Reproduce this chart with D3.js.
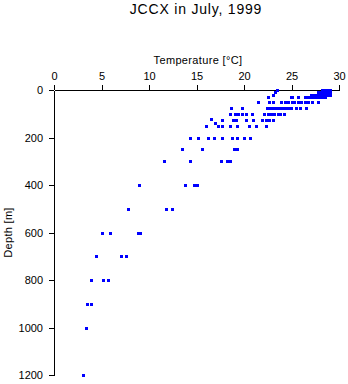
<!DOCTYPE html>
<html>
<head>
<meta charset="utf-8">
<script src="https://cdn.jsdelivr.net/npm/d3@7"></script>
<style>
  html, body { margin: 0; padding: 0; background: #fff; }
  svg { display: block; }
  text { font-family: "Liberation Sans", Arial, Helvetica, sans-serif; fill: #000; }
</style>
</head>
<body>
<svg id="chart" width="348" height="384"></svg>
<script>
// ---- data ----
const title = "JCCX in July, 1999";
const xLabel = "Temperature [°C]";
const yLabel = "Depth [m]";
const tempTicks = [0, 5, 10, 15, 20, 25, 30];
const depthTicks = [0, 200, 400, 600, 800, 1000, 1200];

const depthLevels = [0, 10, 20, 30, 50, 75, 100, 120, 125, 140, 150, 200, 250, 300, 400, 500, 600, 700, 800, 900, 1000, 1200];
const tempsByDepth = [
  [23.5, 28.2, 28.5, 28.8, 29.1],                                   // 0
  [23.3, 27.8, 28.1, 28.4, 28.7, 29.0],                             // 10
  [23.1, 27.1, 27.4, 27.7, 28.0, 28.3, 28.6, 28.9, 29.1],           // 20
  [22.5, 24.9, 25.1, 25.7, 26.4, 26.7, 27.0, 27.3, 27.6, 27.9, 28.2, 28.5], // 30
  [21.5, 22.6, 23.0, 23.9, 24.3, 24.6, 25.0, 25.3, 25.7, 26.0, 26.4, 26.7, 27.2, 27.8], // 50
  [18.6, 19.8, 22.4, 22.7, 23.0, 23.4, 23.7, 24.0, 24.3, 24.6, 24.9, 25.5, 25.9, 26.5], // 75
  [18.5, 19.0, 19.4, 19.8, 20.2, 20.8, 22.1, 22.5, 22.8, 23.2, 23.6, 23.8, 24.2], // 100
  [16.5],                                                            // 120
  [17.7, 18.8, 19.2, 20.2, 20.9, 21.9, 22.3, 22.6, 23.0],           // 125
  [16.9],                                                            // 140
  [16.0, 17.3, 17.7, 18.5, 19.3, 20.5, 21.3, 22.3],                 // 150
  [14.3, 15.2, 16.2, 16.8, 17.7, 18.7, 19.3, 20.0, 20.6],           // 200
  [13.5, 15.6, 18.9, 19.3],                                          // 250
  [11.6, 14.3, 17.6, 18.2, 18.5],                                    // 300
  [8.9, 13.8, 14.7, 15.0],                                           // 400
  [7.8, 11.8, 12.4],                                                 // 500
  [5.1, 5.9, 8.8, 9.1],                                              // 600
  [4.4, 7.0, 7.6],                                                   // 700
  [3.9, 5.15, 5.7],                                                  // 800
  [3.5, 3.9],                                                        // 900
  [3.35],                                                            // 1000
  [3.05]                                                             // 1200
];

// ---- drawing ----
const svg = d3.select("#chart");
const plot = { left: 54, right: 339, top: 90, bottom: 375 };

const x = d3.scaleLinear().domain([0, 30]).range([plot.left, plot.right]);
const y = d3.scaleLinear().domain([0, 1200]).range([plot.top, plot.bottom]);

const points = [];
depthLevels.forEach((d, i) => tempsByDepth[i].forEach(t => points.push({ t, d })));

// title
svg.append("text")
  .attr("x", 196).attr("y", 13.5)
  .attr("text-anchor", "middle")
  .style("font-size", "14px")
  .style("letter-spacing", "0.8px")
  .text(title);

// top axis
const xAxis = d3.axisTop(x).tickValues(tempTicks).tickSize(5).tickSizeOuter(0).tickPadding(5)
  .tickFormat(d3.format("d"));
const gx = svg.append("g").attr("transform", `translate(0,${plot.top})`).call(xAxis);
gx.select(".domain").attr("stroke", "#000").attr("shape-rendering", "crispEdges");
gx.selectAll(".tick line").attr("stroke", "#000").attr("shape-rendering", "crispEdges");
gx.selectAll(".tick text").style("font-size", "11px").style("font-family", '"Liberation Sans", Arial, sans-serif');

// left axis
const yAxis = d3.axisLeft(y).tickValues(depthTicks).tickSize(5).tickSizeOuter(0).tickPadding(6)
  .tickFormat(d3.format("d"));
const gy = svg.append("g").attr("transform", `translate(${plot.left},0)`).call(yAxis);
gy.select(".domain").attr("stroke", "#000").attr("shape-rendering", "crispEdges");
gy.selectAll(".tick line").attr("stroke", "#000").attr("shape-rendering", "crispEdges");
gy.selectAll(".tick text").style("font-size", "11px").style("font-family", '"Liberation Sans", Arial, sans-serif');

// axis labels
svg.append("text")
  .attr("x", 198).attr("y", 64)
  .attr("text-anchor", "middle")
  .style("font-size", "11px")
  .style("letter-spacing", "0.35px")
  .text(xLabel);

svg.append("text")
  .attr("transform", `translate(12,${(plot.top + plot.bottom) / 2}) rotate(-90)`)
  .attr("text-anchor", "middle")
  .style("font-size", "11px")
  .style("letter-spacing", "0.3px")
  .text(yLabel);

// data markers
svg.append("g").selectAll("rect").data(points).join("rect")
  .attr("x", p => Math.round(x(p.t)) - 1.5)
  .attr("y", p => Math.round(y(p.d)) - 1.5)
  .attr("width", 3).attr("height", 3)
  .attr("fill", "#0000ff")
  .attr("shape-rendering", "crispEdges");
</script>
</body>
</html>
